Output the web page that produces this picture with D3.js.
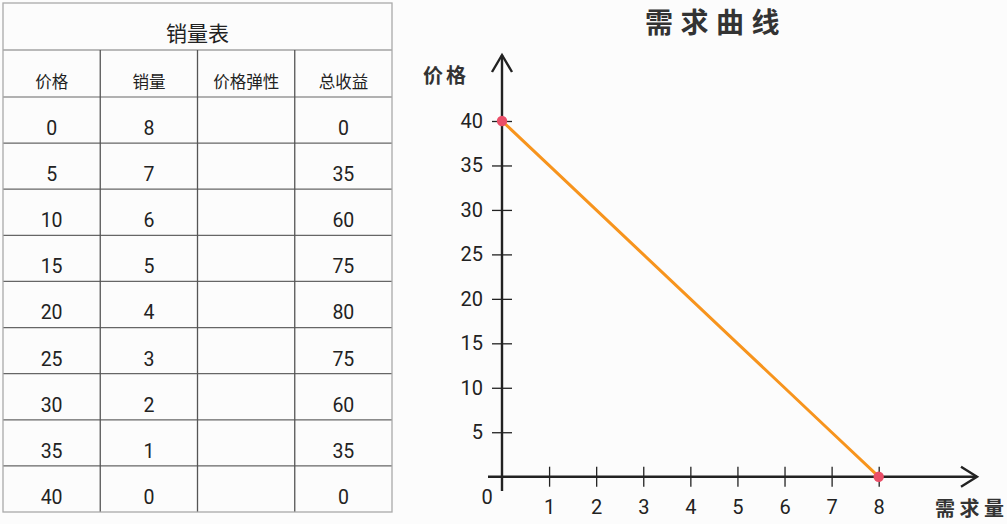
<!DOCTYPE html>
<html><head><meta charset="utf-8">
<script src="https://cdn.jsdelivr.net/npm/d3@7/dist/d3.min.js"></script>
<style>
html,body{margin:0;padding:0;background:#fcfcfc;}
svg{display:block;}
</style></head>
<body><svg id="c" width="1007" height="524"></svg>
<script>
const tableTitle = "销量表";
const headers = ["价格", "销量", "价格弹性", "总收益"];
const prices = [0, 5, 10, 15, 20, 25, 30, 35, 40];
const quantities = [8, 7, 6, 5, 4, 3, 2, 1, 0];
const elasticity = ["", "", "", "", "", "", "", "", ""];
const revenue = [0, 35, 60, 75, 80, 75, 60, 35, 0];
const chartTitle = "需求曲线";
const yLabel = "价格";
const xLabel = "需求量";
const xTicks = [1, 2, 3, 4, 5, 6, 7, 8];
const yTicks = [5, 10, 15, 20, 25, 30, 35, 40];

const svg = d3.select("#c");
const cjk = "'Noto Sans CJK SC', 'Noto Sans', sans-serif";
const num = "Roboto, 'Noto Sans', sans-serif";

// ---------- table ----------
const tx0 = 3, tx1 = 392, ty0 = 3, ty1 = 50, hy1 = 97, tyEnd = 512;
const col = d3.scaleBand().domain(d3.range(headers.length)).range([tx0, tx1]);
const row = d3.scaleBand().domain(d3.range(prices.length)).range([hy1, tyEnd]);
const tg = svg.append("g");
// inner lines
tg.append("line").attr("x1", tx0).attr("x2", tx1).attr("y1", ty1).attr("y2", ty1)
  .attr("stroke", "#777").attr("stroke-width", 1);
tg.append("line").attr("x1", tx0).attr("x2", tx1).attr("y1", hy1).attr("y2", hy1)
  .attr("stroke", "#666").attr("stroke-width", 1.2);
prices.slice(1).forEach((d, i) => {
  const y = row(i + 1);
  tg.append("line").attr("x1", tx0).attr("x2", tx1).attr("y1", y).attr("y2", y)
    .attr("stroke", "#666").attr("stroke-width", 1.2);
});
d3.range(1, headers.length).forEach(i => {
  const x = col(i);
  tg.append("line").attr("x1", x).attr("x2", x).attr("y1", ty1).attr("y2", tyEnd)
    .attr("stroke", "#555").attr("stroke-width", 1.3);
});
// outer border
tg.append("rect").attr("x", tx0).attr("y", ty0).attr("width", tx1 - tx0).attr("height", tyEnd - ty0)
  .attr("fill", "none").attr("stroke", "#aaa").attr("stroke-width", 1.3);

tg.append("text").attr("x", (tx0 + tx1) / 2).attr("y", 41).attr("text-anchor", "middle")
  .attr("font-family", cjk).attr("font-size", 21).attr("fill", "#222").text(tableTitle);
headers.forEach((h, i) => {
  tg.append("text").attr("x", col(i) + col.bandwidth() / 2).attr("y", 88).attr("text-anchor", "middle")
    .attr("font-family", cjk).attr("font-size", 16.5).attr("fill", "#222").text(h);
});
const rowsData = prices.map((p, i) => [p, quantities[i], elasticity[i], revenue[i]]);
rowsData.forEach((r, i) => {
  r.forEach((v, j) => {
    tg.append("text").attr("x", col(j) + col.bandwidth() / 2).attr("y", row(i) + 38)
      .attr("text-anchor", "middle").attr("font-family", num).attr("font-size", 19.5)
      .attr("fill", "#222").text(v);
  });
});

// ---------- chart ----------
const x = d3.scaleLinear().domain([0, 8]).range([502, 878.7]);
const y = d3.scaleLinear().domain([0, 40]).range([476.7, 121]);
const ax = "#222";
const cg = svg.append("g");

// axes lines
cg.append("line").attr("x1", 488).attr("x2", 977).attr("y1", y(0)).attr("y2", y(0))
  .attr("stroke", ax).attr("stroke-width", 2.4);
cg.append("line").attr("x1", x(0)).attr("x2", x(0)).attr("y1", 491).attr("y2", 55)
  .attr("stroke", ax).attr("stroke-width", 2.4);
// arrows
cg.append("path").attr("d", `M961,${y(0) - 10}L977,${y(0)}L961,${y(0) + 10}`)
  .attr("fill", "none").attr("stroke", ax).attr("stroke-width", 2.4).attr("stroke-linejoin", "miter");
cg.append("path").attr("d", `M${x(0) - 10},72L${x(0)},55L${x(0) + 10},72`)
  .attr("fill", "none").attr("stroke", ax).attr("stroke-width", 2.4);

const yAxis = cg.append("g").attr("transform", `translate(${x(0)},0)`)
  .call(d3.axisLeft(y).tickValues(yTicks).tickSize(10).tickPadding(9));
yAxis.select(".domain").remove();
yAxis.selectAll(".tick line").attr("x1", -10).attr("x2", 10).attr("stroke", ax).attr("stroke-width", 1.3);
yAxis.selectAll(".tick text").attr("font-family", num).attr("font-size", 20).attr("fill", "#222");

const xAxis = cg.append("g").attr("transform", `translate(0,${y(0)})`)
  .call(d3.axisBottom(x).tickValues(xTicks).tickSize(10).tickPadding(13));
xAxis.select(".domain").remove();
xAxis.selectAll(".tick line").attr("y1", -10).attr("y2", 10).attr("stroke", ax).attr("stroke-width", 1.3);
xAxis.selectAll(".tick text").attr("font-family", num).attr("font-size", 20).attr("fill", "#222");

cg.append("text").attr("x", 487).attr("y", 504).attr("text-anchor", "middle")
  .attr("font-family", num).attr("font-size", 20).attr("fill", "#222").text("0");

// demand line
const pts = prices.map((p, i) => ({ q: quantities[i], p }));
cg.append("path").datum(pts)
  .attr("d", d3.line().x(d => x(d.q)).y(d => y(d.p)))
  .attr("fill", "none").attr("stroke", "#f7941d").attr("stroke-width", 3);
cg.selectAll("circle.end").data([pts[0], pts[pts.length - 1]]).enter().append("circle")
  .attr("cx", d => x(d.q)).attr("cy", d => y(d.p)).attr("r", 5.2).attr("fill", "#ea4e68");

// titles
cg.append("text").attr("x", 645).attr("y", 33).attr("font-family", cjk).attr("font-weight", "bold")
  .attr("font-size", 28).attr("letter-spacing", 7.5).attr("fill", "#333").text(chartTitle);
cg.append("text").attr("x", 423).attr("y", 83).attr("font-family", cjk).attr("font-weight", "bold")
  .attr("font-size", 20).attr("letter-spacing", 3).attr("fill", "#333").text(yLabel);
cg.append("text").attr("x", 935).attr("y", 516).attr("font-family", cjk).attr("font-weight", "bold")
  .attr("font-size", 20).attr("letter-spacing", 4.5).attr("fill", "#333").text(xLabel);
</script></body></html>
